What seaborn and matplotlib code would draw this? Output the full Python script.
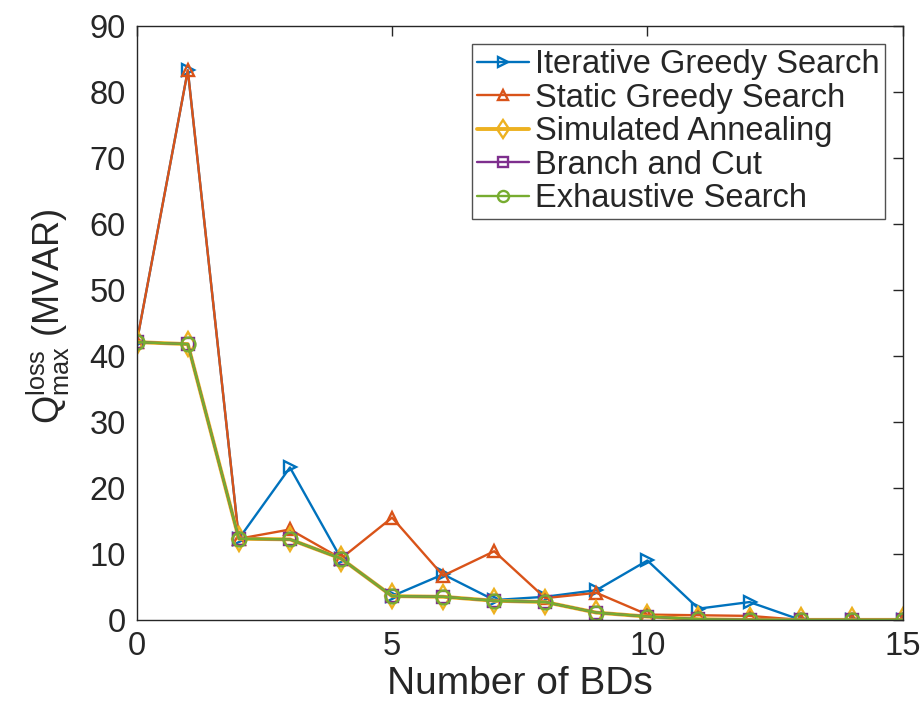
import matplotlib
matplotlib.use("Agg")
import matplotlib.pyplot as plt
import seaborn as sns
import pandas as pd

num_bds = list(range(16))

iterative_greedy = [42.1, 83.3, 12.3, 23.1, 9.3, 3.6, 6.9, 3.0, 3.5, 4.5, 9.0, 1.7, 2.7, 0.0, 0.0, 0.0]
static_greedy    = [42.1, 83.3, 12.3, 13.7, 9.3, 15.5, 6.7, 10.4, 3.3, 4.1, 0.8, 0.7, 0.6, 0.0, 0.0, 0.0]
sim_annealing    = [42.1, 41.8, 12.3, 12.2, 9.3, 3.6, 3.5, 2.9, 2.7, 1.1, 0.5, 0.1, 0.0, 0.0, 0.0, 0.0]
branch_and_cut   = [42.1, 41.8, 12.3, 12.2, 9.3, 3.6, 3.5, 2.9, 2.7, 1.1, 0.5, 0.1, 0.0, 0.0, 0.0, 0.0]
exhaustive       = [42.1, 41.8, 12.3, 12.2, 9.3, 3.6, 3.5, 2.9, 2.7, 1.1, 0.5, 0.1, 0.0, 0.0, 0.0, 0.0]

series_names = ["Iterative Greedy Search", "Static Greedy Search", "Simulated Annealing",
                "Branch and Cut", "Exhaustive Search"]
series_values = [iterative_greedy, static_greedy, sim_annealing, branch_and_cut, exhaustive]

sns.set_theme(style="white")
plt.rcParams["font.family"] = ["Liberation Sans", "DejaVu Sans"]
plt.rcParams["mathtext.fontset"] = "custom"
plt.rcParams["mathtext.rm"] = "Liberation Sans"
plt.rcParams["mathtext.it"] = "Liberation Sans:italic"

styles = {
    "Iterative Greedy Search": dict(color="#0072BD", marker=">", markersize=9, linewidth=1.7),
    "Static Greedy Search":    dict(color="#D95319", marker="^", markersize=9, linewidth=1.7),
    "Simulated Annealing":     dict(color="#EDB120", marker="d", markersize=12, linewidth=2.8),
    "Branch and Cut":          dict(color="#7E2F8E", marker="s", markersize=9, linewidth=1.7),
    "Exhaustive Search":       dict(color="#77AC30", marker="o", markersize=10, linewidth=1.7),
}

fig = plt.figure(figsize=(9.24, 7.06), dpi=100)
ax = fig.add_axes([0.148, 0.122, 0.829, 0.841])

for name, vals in zip(series_names, series_values):
    df = pd.DataFrame({"x": num_bds, "y": vals})
    st = styles[name]
    sns.lineplot(data=df, x="x", y="y", ax=ax, label=name, color=st["color"],
                 marker=st["marker"], markersize=st["markersize"], linewidth=st["linewidth"],
                 markerfacecolor="none", markeredgecolor=st["color"], markeredgewidth=1.7)

ax.set_xlim(0, 15)
ax.set_ylim(0, 90)
ax.set_xticks([0, 5, 10, 15])
ax.set_yticks(range(0, 91, 10))
ax.tick_params(axis="both", which="both", direction="in", length=7, width=1.0,
               colors="#262626", labelsize=23.5, top=True, right=True, pad=8)
for sp in ax.spines.values():
    sp.set_visible(True)
    sp.set_color("#262626")
    sp.set_linewidth(1.0)

ax.set_xlabel("Number of BDs", fontsize=28, color="#262626", labelpad=3)
ax.set_ylabel(r"$\mathrm{Q}_{\mathrm{max}}^{\mathrm{loss}}$ (MVAR)", fontsize=26,
              color="#262626")
ax.yaxis.set_label_coords(-0.085, 0.512)

leg = ax.legend(loc="upper right", fontsize=23.5, frameon=True, fancybox=False,
                edgecolor="#262626", borderpad=0.15, labelspacing=0.08, handlelength=1.6,
                handletextpad=0.2, borderaxespad=0.55, markerscale=0.8)
leg.get_frame().set_linewidth(1.0)

fig.savefig("out.png", dpi=100)
